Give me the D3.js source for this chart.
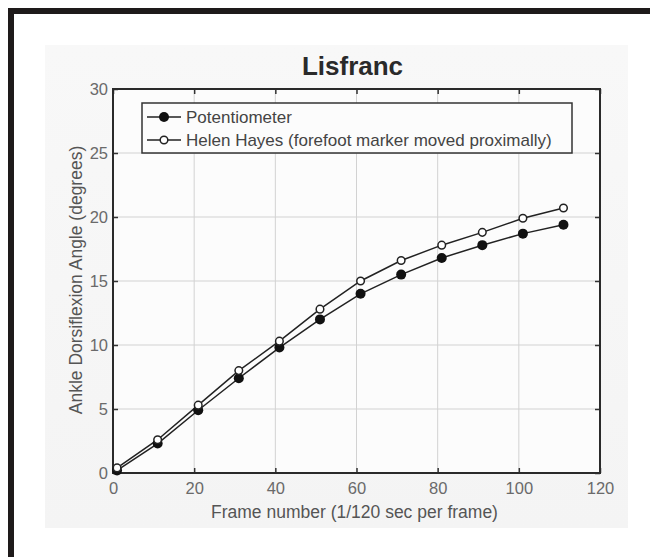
<!DOCTYPE html>
<html lang="en">
<head>
  <meta charset="UTF-8" />
  <title>Lisfranc</title>
  <script src="https://d3js.org/d3.v7.min.js"></script>
  <style>
    body { margin: 0; background: #fff; }
    svg { display: block; font-family: 'Liberation Sans', Arial, sans-serif; }
  </style>
</head>
<body>
  <div id="chart"></div>
  <script>
    // frame numbers and angles
    const frames = [1, 11, 21, 31, 41, 51, 61, 71, 81, 91, 101, 111];
    const potentiometer = [0.2, 2.3, 4.9, 7.4, 9.8, 12.0, 14.0, 15.5, 16.8, 17.8, 18.7, 19.4];
    const helenHayes = [0.4, 2.6, 5.3, 8.0, 10.3, 12.8, 15.0, 16.6, 17.8, 18.8, 19.9, 20.7];
    const seriesNames = ["Potentiometer", "Helen Hayes (forefoot marker moved proximally)"];
    const xTicks = [0, 20, 40, 60, 80, 100, 120];
    const yTicks = [0, 5, 10, 15, 20, 25, 30];

    const W = 650, H = 557;
    const plot = { left: 113, right: 600, top: 89, bottom: 473 };

    const svg = d3.select("#chart").append("svg")
      .attr("width", W)
      .attr("height", H);

    // page frame
    svg.append("rect").attr("x", 8).attr("y", 8).attr("width", 6).attr("height", H - 8).attr("fill", "#1e1a1a");
    svg.append("rect").attr("x", 8).attr("y", 8).attr("width", W - 8).attr("height", 6).attr("fill", "#1e1a1a");

    // figure background
    const grad = svg.append("defs").append("linearGradient")
      .attr("id", "bg").attr("x1", 0).attr("y1", 0).attr("x2", 0).attr("y2", 1);
    grad.append("stop").attr("offset", "0%").attr("stop-color", "#f8f8f8");
    grad.append("stop").attr("offset", "100%").attr("stop-color", "#f4f4f4");
    svg.append("rect")
      .attr("x", 45).attr("y", 45).attr("width", 583).attr("height", 483)
      .attr("fill", "url(#bg)");

    const x = d3.scaleLinear().domain([0, 120]).range([plot.left, plot.right]);
    const y = d3.scaleLinear().domain([0, 30]).range([plot.bottom, plot.top]);

    svg.append("rect")
      .attr("x", plot.left).attr("y", plot.top)
      .attr("width", plot.right - plot.left).attr("height", plot.bottom - plot.top)
      .attr("fill", "#fcfcfc");

    // grid
    const grid = svg.append("g").attr("stroke", "#d2d2d2").attr("stroke-width", 1);
    grid.selectAll("line.v").data(xTicks.slice(1, -1)).join("line")
      .attr("x1", d => x(d)).attr("x2", d => x(d))
      .attr("y1", plot.top).attr("y2", plot.bottom);
    grid.selectAll("line.h").data(yTicks.slice(1, -1)).join("line")
      .attr("y1", d => y(d)).attr("y2", d => y(d))
      .attr("x1", plot.left).attr("x2", plot.right);

    // axes with inward ticks
    function styleAxis(g) {
      g.select(".domain").remove();
      g.selectAll(".tick line").attr("stroke", "#333").attr("stroke-width", 1.5);
      g.selectAll(".tick text").attr("fill", "#6a6a6a").style("font-size", "16.5px");
    }
    svg.append("g").attr("transform", `translate(0,${plot.bottom})`)
      .call(d3.axisBottom(x).tickValues(xTicks).tickSizeInner(-5).tickSizeOuter(0).tickPadding(9))
      .call(styleAxis);
    svg.append("g").attr("transform", `translate(0,${plot.top})`)
      .call(d3.axisTop(x).tickValues(xTicks).tickSizeInner(-5).tickSizeOuter(0).tickFormat(""))
      .call(styleAxis);
    svg.append("g").attr("transform", `translate(${plot.left},0)`)
      .call(d3.axisLeft(y).tickValues(yTicks).tickSizeInner(-5).tickSizeOuter(0).tickPadding(5))
      .call(styleAxis);
    svg.append("g").attr("transform", `translate(${plot.right},0)`)
      .call(d3.axisRight(y).tickValues(yTicks).tickSizeInner(-5).tickSizeOuter(0).tickFormat(""))
      .call(styleAxis);

    svg.append("rect")
      .attr("x", plot.left).attr("y", plot.top)
      .attr("width", plot.right - plot.left).attr("height", plot.bottom - plot.top)
      .attr("fill", "none").attr("stroke", "#2a2a2a").attr("stroke-width", 2);

    // series
    const line = d3.line().x(d => x(d[0])).y(d => y(d[1]));
    const potData = frames.map((f, i) => [f, potentiometer[i]]);
    const hhData = frames.map((f, i) => [f, helenHayes[i]]);

    svg.append("path").datum(potData).attr("d", line)
      .attr("fill", "none").attr("stroke", "#222").attr("stroke-width", 1.5);
    svg.append("path").datum(hhData).attr("d", line)
      .attr("fill", "none").attr("stroke", "#222").attr("stroke-width", 1.5);

    svg.append("g").selectAll("circle").data(potData).join("circle")
      .attr("cx", d => x(d[0])).attr("cy", d => y(d[1])).attr("r", 5)
      .attr("fill", "#111");
    svg.append("g").selectAll("circle").data(hhData).join("circle")
      .attr("cx", d => x(d[0])).attr("cy", d => y(d[1])).attr("r", 3.8)
      .attr("fill", "#fff").attr("stroke", "#222").attr("stroke-width", 1.5);

    // legend
    const legend = svg.append("g");
    legend.append("rect")
      .attr("x", 142).attr("y", 103).attr("width", 430).attr("height", 50)
      .attr("fill", "#fcfcfc").attr("stroke", "#333").attr("stroke-width", 1.5);
    seriesNames.forEach((name, i) => {
      const ly = 117 + i * 23;
      legend.append("line").attr("x1", 147).attr("x2", 181).attr("y1", ly).attr("y2", ly)
        .attr("stroke", "#222").attr("stroke-width", 1.5);
      if (i === 0) {
        legend.append("circle").attr("cx", 164).attr("cy", ly).attr("r", 5).attr("fill", "#111");
      } else {
        legend.append("circle").attr("cx", 164).attr("cy", ly).attr("r", 3.8)
          .attr("fill", "#fff").attr("stroke", "#222").attr("stroke-width", 1.5);
      }
      legend.append("text").attr("x", 186).attr("y", ly).attr("dy", "0.36em")
        .attr("fill", "#444").style("font-size", "17px").text(name);
    });

    // title and labels
    svg.append("text")
      .attr("x", (plot.left + plot.right) / 2 - 4).attr("y", 75)
      .attr("text-anchor", "middle").attr("fill", "#2a2a2a")
      .style("font-size", "26px").style("font-weight", "bold")
      .text("Lisfranc");
    svg.append("text")
      .attr("x", (plot.left + plot.right) / 2 - 2).attr("y", 518)
      .attr("text-anchor", "middle").attr("fill", "#555")
      .style("font-size", "17.5px")
      .text("Frame number (1/120 sec per frame)");
    svg.append("text")
      .attr("transform", `translate(82,${(plot.top + plot.bottom) / 2 - 1}) rotate(-90)`)
      .attr("text-anchor", "middle").attr("fill", "#555")
      .style("font-size", "17.5px")
      .text("Ankle Dorsiflexion Angle (degrees)");
  </script>
</body>
</html>
